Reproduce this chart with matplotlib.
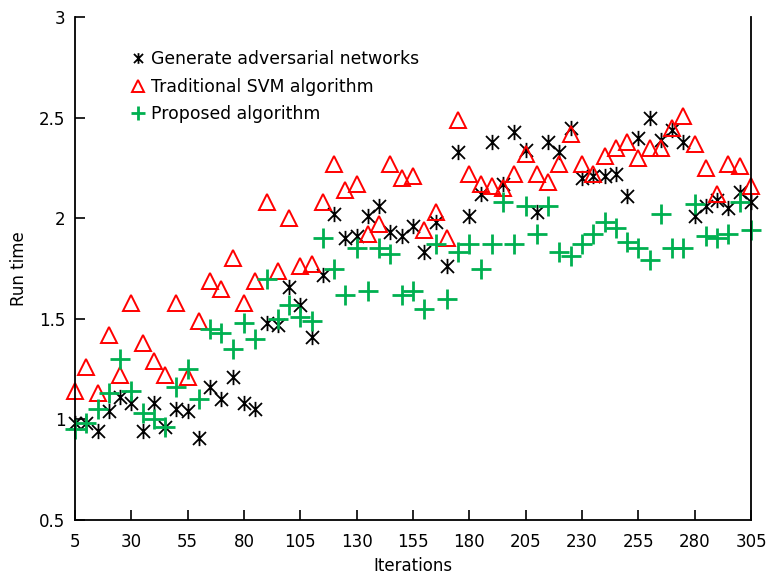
import matplotlib
matplotlib.use("Agg")
import matplotlib.pyplot as plt
from matplotlib.path import Path

iterations = list(range(5, 306, 5))

gan = [0.98, 0.98, 0.94, 1.04, 1.11, 1.08, 0.94, 1.08, 0.96, 1.05,
       1.04, 0.91, 1.16, 1.10, 1.21, 1.08, 1.05, 1.48, 1.47, 1.66,
       1.57, 1.41, 1.72, 2.02, 1.90, 1.91, 2.01, 2.06, 1.93, 1.91,
       1.96, 1.83, 1.98, 1.76, 2.33, 2.01, 2.12, 2.38, 2.17, 2.43,
       2.34, 2.03, 2.38, 2.33, 2.45, 2.20, 2.21, 2.21, 2.22, 2.11,
       2.40, 2.50, 2.39, 2.44, 2.38, 2.01, 2.06, 2.09, 2.05, 2.13,
       2.08]

svm = [1.14, 1.26, 1.13, 1.42, 1.22, 1.58, 1.38, 1.29, 1.22, 1.58,
       1.21, 1.49, 1.69, 1.65, 1.80, 1.58, 1.69, 2.08, 1.74, 2.00,
       1.76, 1.77, 2.08, 2.27, 2.14, 2.17, 1.92, 1.97, 2.27, 2.20,
       2.21, 1.94, 2.03, 1.90, 2.49, 2.22, 2.17, 2.16, 2.15, 2.22,
       2.32, 2.22, 2.18, 2.27, 2.42, 2.27, 2.22, 2.31, 2.35, 2.38,
       2.30, 2.35, 2.35, 2.45, 2.51, 2.37, 2.25, 2.12, 2.27, 2.26,
       2.16]

proposed = [0.95, 0.98, 1.05, 1.13, 1.30, 1.14, 1.03, 1.00, 0.96, 1.16,
            1.25, 1.10, 1.45, 1.43, 1.35, 1.48, 1.40, 1.70, 1.50, 1.57,
            1.51, 1.49, 1.90, 1.75, 1.62, 1.85, 1.64, 1.85, 1.82, 1.62,
            1.64, 1.55, 1.87, 1.60, 1.83, 1.87, 1.75, 1.87, 2.08, 1.87,
            2.06, 1.92, 2.06, 1.83, 1.81, 1.87, 1.92, 1.98, 1.95, 1.88,
            1.85, 1.79, 2.02, 1.85, 1.85, 2.07, 1.91, 1.90, 1.92, 2.08,
            1.94]

xticks = list(range(5, 306, 25))
yticks = [0.5, 1, 1.5, 2, 2.5, 3]

labels = ["Generate adversarial networks", "Traditional SVM algorithm", "Proposed algorithm"]

plt.rcParams['font.family'] = ['DejaVu Sans']

# asterisk marker: vertical line plus an X
ast = Path([(0, -1), (0, 1), (-0.85, -0.85), (0.85, 0.85), (-0.85, 0.85), (0.85, -0.85)],
           [Path.MOVETO, Path.LINETO, Path.MOVETO, Path.LINETO, Path.MOVETO, Path.LINETO])

fig = plt.figure(figsize=(7.68, 5.80), dpi=100)
ax = fig.add_axes([0.0977, 0.1034, 0.8802, 0.8673])

ax.plot(iterations, gan, linestyle='none', marker=ast, markersize=11,
        markeredgecolor='black', markeredgewidth=1.3, color='black', label=labels[0],
        clip_on=False)
ax.plot(iterations, svm, linestyle='none', marker='^', markersize=12,
        markerfacecolor='none', markeredgecolor='#ff0000', markeredgewidth=1.4, label=labels[1],
        clip_on=False)
ax.plot(iterations, proposed, linestyle='none', marker='+', markersize=14,
        markeredgecolor='#00b050', markeredgewidth=2.0, color='#00b050', label=labels[2],
        clip_on=False)

ax.set_xlim(5, 305)
ax.set_ylim(0.5, 3)
ax.set_xticks(xticks)
ax.set_xticklabels([str(t) for t in xticks])
ax.set_yticks(yticks)
ax.set_yticklabels(["0.5", "1", "1.5", "2", "2.5", "3"])
ax.tick_params(direction='in', length=7, width=1.2, labelsize=12, top=False, right=False, pad=7)
ax.tick_params(axis='x', pad=9)
for s in ax.spines.values():
    s.set_linewidth(1.3)
ax.spines['top'].set_visible(False)

ax.set_xlabel("Iterations", fontsize=12, labelpad=5)
ax.set_ylabel("Run time", fontsize=12, labelpad=8)

leg = ax.legend(loc='upper left', bbox_to_anchor=(0.062, 0.965), frameon=False, fontsize=12.4,
                handlelength=0.6, handletextpad=0.45, labelspacing=0.55, markerscale=0.7)

fig.savefig("out.png", dpi=100)
